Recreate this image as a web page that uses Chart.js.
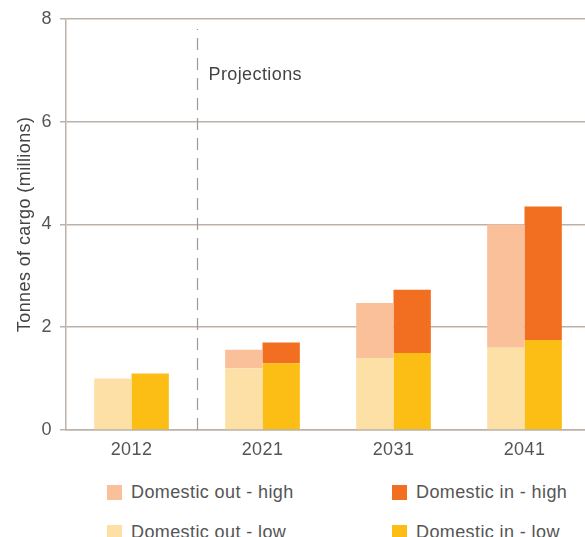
<!DOCTYPE html>
<html>
<head>
<meta charset="utf-8">
<script src="https://cdn.jsdelivr.net/npm/chart.js@4.4.1/dist/chart.umd.min.js"></script>
<style>
  html, body { margin: 0; padding: 0; background: #fff; overflow: hidden; }
  #wrap { position: relative; width: 585px; height: 537px; overflow: hidden; }
  #box { position: absolute; left: 0; top: 0; width: 590px; height: 470px; }
  #legend { position: absolute; left: 0; top: 0; width: 585px; font-family: "Liberation Sans", Arial, sans-serif; font-size: 18px; letter-spacing: 0.4px; color: #555; }
  .item { position: absolute; display: flex; align-items: center; white-space: nowrap; height: 15px; }
  .sw { width: 15px; height: 15px; margin-right: 9px; flex: none; }
</style>
</head>
<body>
<div id="wrap">
  <div id="box"><canvas id="c"></canvas></div>
  <div id="legend"></div>
</div>
<script>
// === DATA ===
const years = ['2012', '2021', '2031', '2041'];
const outLow = [1.0, 1.2, 1.4, 1.6];
const outHigh = [0, 0.36, 1.07, 2.4];
const inLow = [1.1, 1.3, 1.5, 1.75];
const inHigh = [0, 0.4, 1.23, 2.6];
const yTicks = [0, 2, 4, 6, 8];

// === COLORS ===
const col = {
    outLow: '#FDE0A6',
    outHigh: '#F9C09A',
    inLow: '#FCBD14',
    inHigh: '#F26F21',
    grid: '#BDB2AA',
    text: '#555555',
    dash: '#9A9A9A'
};
const FONT = '"Liberation Sans", Arial, sans-serif';

// slightly wider text, closer to the original typeface
const spacing = {
    id: 'spacing',
    beforeLayout(chart) { chart.ctx.letterSpacing = '0.4px'; },
    beforeDraw(chart) { chart.ctx.letterSpacing = '0.4px'; }
};

// dashed "Projections" divider between 2012 and 2021
const projLine = {
    id: 'projLine',
    afterDatasetsDraw(chart) {
        const { ctx, scales: { x, y } } = chart;
        const px = Math.round((x.getPixelForValue(0) + x.getPixelForValue(1)) / 2) + 0.5;
        ctx.save();
        ctx.strokeStyle = col.dash;
        ctx.lineWidth = 1.2;
        ctx.setLineDash([12, 8]);
        ctx.beginPath();
        ctx.moveTo(px, y.getPixelForValue(0));
        ctx.lineTo(px, y.getPixelForValue(7.8));
        ctx.stroke();
        ctx.setLineDash([]);
        ctx.fillStyle = '#444';
        ctx.font = '18px ' + FONT;
        ctx.textBaseline = 'middle';
        ctx.fillText('Projections', px + 11, y.getPixelForValue(6.9));
        ctx.restore();
    }
};

const datasets = [
    { label: 'Domestic out - low', data: outLow, backgroundColor: col.outLow, stack: 'out' },
    { label: 'Domestic out - high', data: outHigh, backgroundColor: col.outHigh, stack: 'out' },
    { label: 'Domestic in - low', data: inLow, backgroundColor: col.inLow, stack: 'in' },
    { label: 'Domestic in - high', data: inHigh, backgroundColor: col.inHigh, stack: 'in' }
].map(d => ({ ...d, categoryPercentage: 0.57, barPercentage: 1.0, borderWidth: 0 }));

new Chart(document.getElementById('c'), {
    type: 'bar',
    data: { labels: years, datasets },
    options: {
        responsive: true,
        maintainAspectRatio: false,
        animation: false,
        layout: { padding: { top: 10, right: 0, left: 0, bottom: 0 } },
        plugins: { legend: { display: false }, tooltip: { enabled: false } },
        scales: {
            x: {
                stacked: true,
                afterFit(s) { s.height = 40; },
                grid: { display: false, drawTicks: false },
                border: { color: col.grid, width: 1.5 },
                ticks: { color: col.text, font: { family: FONT, size: 18 }, padding: 9 }
            },
            y: {
                stacked: true,
                min: 0, max: 8,
                afterBuildTicks(s) { s.ticks = yTicks.map(v => ({ value: v })); },
                afterFit(s) { s.width = 66; },
                grid: { color: col.grid, lineWidth: 1.5, tickLength: 6 },
                border: { color: col.grid, width: 1.5 },
                ticks: { color: col.text, font: { family: FONT, size: 18 }, padding: 8 },
                title: {
                    display: true,
                    text: 'Tonnes of cargo (millions)',
                    color: '#444',
                    font: { family: FONT, size: 18 },
                    padding: { top: 14, bottom: 0 }
                }
            }
        }
    },
    plugins: [spacing, projLine]
});

// === LEGEND (2 x 2) ===
const legendOrder = [1, 3, 0, 2];
const legendPos = [[107, 485], [392, 485], [107, 525], [392, 525]];
const leg = document.getElementById('legend');
legendOrder.forEach((di, i) => {
    const d = datasets[di];
    const it = document.createElement('div');
    it.className = 'item';
    it.style.left = legendPos[i][0] + 'px';
    it.style.top = legendPos[i][1] + 'px';
    it.innerHTML = '<span class="sw" style="background:' + d.backgroundColor + '"></span>' + d.label;
    leg.appendChild(it);
});
</script>
</body>
</html>
